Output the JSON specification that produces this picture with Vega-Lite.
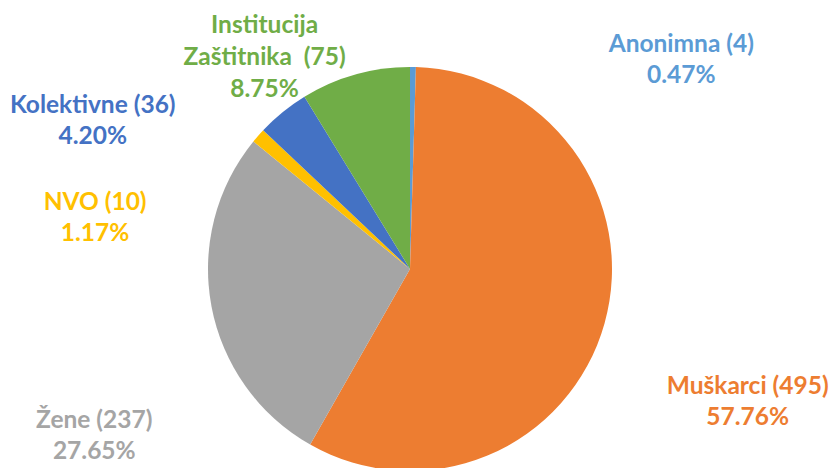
{
  "$schema": "https://vega.github.io/schema/vega-lite/v6.json",
  "width": 820,
  "height": 398,
  "padding": {"left": 0, "top": 70, "right": 14, "bottom": 0},
  "autosize": {"type": "none"},
  "background": "white",
  "config": {"view": {"stroke": null}, "text": {"font": "Lato", "fontWeight": "bold", "fontSize": 24.5, "align": "center", "baseline": "alphabetic", "lineBreak": "\n", "lineHeight": 31}},
  "data": {
    "values": [
      {"rank": 1, "category": "Anonimna", "count": 4, "pct": 0.47},
      {"rank": 2, "category": "Muškarci", "count": 495, "pct": 57.76},
      {"rank": 3, "category": "Žene", "count": 237, "pct": 27.65},
      {"rank": 4, "category": "NVO", "count": 10, "pct": 1.17},
      {"rank": 5, "category": "Kolektivne", "count": 36, "pct": 4.20},
      {"rank": 6, "category": "Institucija Zaštitnika", "count": 75, "pct": 8.75}
    ]
  },
  "transform": [
    {"calculate": "replace(datum.category, ' ', '\\n') + (indexof(datum.category, ' ') > 0 ? ' \u00a0(' : ' (') + datum.count + ')\\n' + format(datum.pct, '.2f') + '%'", "as": "label"}
  ],
  "encoding": {
    "theta": {"field": "count", "type": "quantitative", "stack": true},
    "order": {"field": "rank", "type": "quantitative"},
    "color": {
      "field": "category",
      "type": "nominal",
      "legend": null,
      "scale": {
        "domain": ["Anonimna", "Muškarci", "Žene", "NVO", "Kolektivne", "Institucija Zaštitnika"],
        "range": ["#5B9BD5", "#ED7D31", "#A5A5A5", "#FFC000", "#4472C4", "#70AD47"]
      }
    }
  },
  "layer": [
    {"mark": {"type": "arc", "outerRadius": 202}},
    {
      "mark": {"type": "text", "radius": 225, "dx": 268, "dy": 8},
      "encoding": {"text": {"condition": {"test": "datum.category === 'Anonimna'", "field": "label", "type": "nominal"}, "value": ""}}
    },
    {
      "mark": {"type": "text", "radius": 250, "dx": 97, "dy": 58},
      "encoding": {"text": {"condition": {"test": "datum.category === 'Muškarci'", "field": "label", "type": "nominal"}, "value": ""}}
    },
    {
      "mark": {"type": "text", "radius": 250, "dx": -70, "dy": 113},
      "encoding": {"text": {"condition": {"test": "datum.category === 'Žene'", "field": "label", "type": "nominal"}, "value": ""}}
    },
    {
      "mark": {"type": "text", "radius": 250, "dx": -127, "dy": 106},
      "encoding": {"text": {"condition": {"test": "datum.category === 'NVO'", "field": "label", "type": "nominal"}, "value": ""}}
    },
    {
      "mark": {"type": "text", "radius": 240, "dx": -166, "dy": 30},
      "encoding": {"text": {"condition": {"test": "datum.category === 'Kolektivne'", "field": "label", "type": "nominal"}, "value": ""}}
    },
    {
      "mark": {"type": "text", "radius": 230, "dx": -83, "dy": -15, "lineHeight": 32},
      "encoding": {"text": {"condition": {"test": "datum.category === 'Institucija Zaštitnika'", "field": "label", "type": "nominal"}, "value": ""}}
    }
  ]
}
